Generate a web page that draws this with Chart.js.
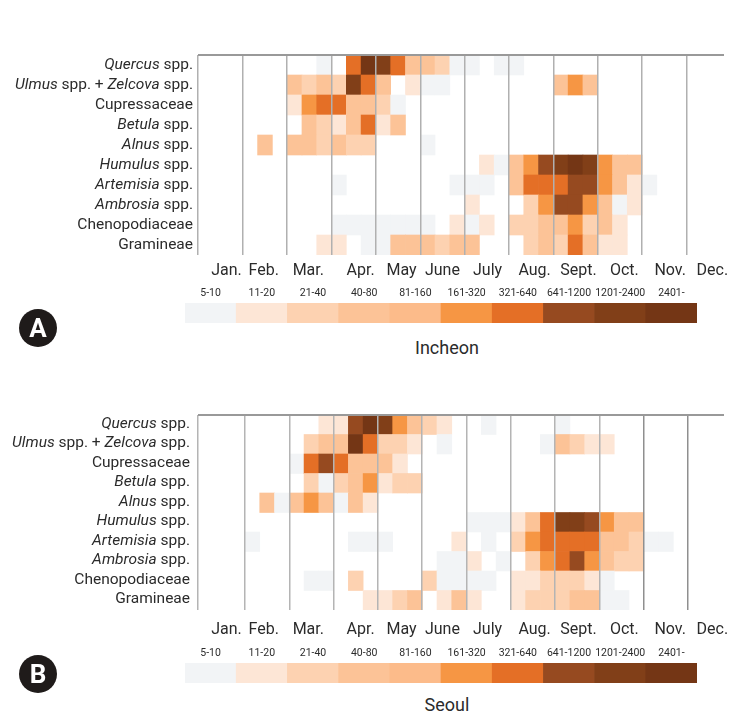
<!DOCTYPE html>
<html>
<head>
<meta charset="utf-8">
<script src="https://cdn.jsdelivr.net/npm/chart.js@4"></script>
<style>
  html, body { margin: 0; padding: 0; background: #fff; }
  #page { position: relative; width: 752px; height: 720px; overflow: hidden; font-family: Roboto, sans-serif; }
  canvas { position: absolute; left: 0; }
  .city { position: absolute; left: 347px; width: 200px; text-align: center; font-size: 18px; line-height: 24px; color: #2b2b2b; }
  .badge { position: absolute; left: 19px; width: 38px; height: 38px; border-radius: 50%; background: #1f1b1a; color: #fff;
           font-weight: 700; font-size: 26px; line-height: 38px; text-align: center; }
</style>
</head>
<body>
<div id="page">
  <canvas id="heatA" width="752" height="285" style="top:0"></canvas>
  <canvas id="legendA" width="752" height="43" style="top:280px"></canvas>
  <canvas id="heatB" width="752" height="280" style="top:360px"></canvas>
  <canvas id="legendB" width="752" height="43" style="top:640px"></canvas>
  <div class="city" style="top:336px">Incheon</div>
  <div class="city" style="top:693px">Seoul</div>
  <div class="badge" style="top:309px">A</div>
  <div class="badge" style="top:655px">B</div>
</div>
<script>
// labels (*...* = italic)
const taxa = ['*Quercus* spp.', '*Ulmus* spp. + *Zelcova* spp.', 'Cupressaceae', '*Betula* spp.', '*Alnus* spp.',
  '*Humulus* spp.', '*Artemisia* spp.', '*Ambrosia* spp.', 'Chenopodiaceae', 'Gramineae'];
const monthLabels = ['Jan.', 'Feb.', 'Mar.', 'Apr.', 'May', 'June', 'July', 'Aug.', 'Sept.', 'Oct.', 'Nov.', 'Dec.'];
const monthTickCols = [1.9, 4.42, 7.43, 10.97, 13.74, 16.5, 19.55, 22.73, 25.7, 28.8, 31.9, 34.75];
const monthLineCols = [3, 6, 9, 12, 15, 18, 21, 24, 27, 30, 33];
const levelLabels = ['5-10', '11-20', '21-40', '40-80', '81-160', '161-320', '321-640', '641-1200', '1201-2400', '2401-'];
const levelColors = ['#f2f4f6', '#fde6d6', '#fdd2b1', '#fcc397', '#fcbb8a', '#f69644', '#e46f26', '#964a20', '#813f18', '#743615'];

// Incheon: pollen level per ten-day period, 3 values a month (0 = none)
const incheonQuercus = [0,0,0, 0,0,0, 0,0,1, 0,7,10, 9,7,4, 4,3,1, 1,0,1, 1,0,0, 0,0,0, 0,0,0, 0,0,0, 0,0,0];
const incheonUlmus   = [0,0,0, 0,0,0, 4,3,4, 3,9,7, 4,0,2, 1,1,0, 0,0,0, 0,0,0, 4,6,4, 0,0,0, 0,0,0, 0,0,0];
const incheonCupress = [0,0,0, 0,0,0, 2,6,7, 7,4,4, 3,1,0, 0,0,0, 0,0,0, 0,0,0, 0,0,0, 0,0,0, 0,0,0, 0,0,0];
const incheonBetula  = [0,0,0, 0,0,0, 0,4,3, 2,4,7, 2,4,0, 0,0,0, 0,0,0, 0,0,0, 0,0,0, 0,0,0, 0,0,0, 0,0,0];
const incheonAlnus   = [0,0,0, 0,4,0, 4,4,3, 4,3,3, 0,0,0, 1,0,0, 0,0,0, 0,0,0, 0,0,0, 0,0,0, 0,0,0, 0,0,0];
const incheonHumulus = [0,0,0, 0,0,0, 0,0,0, 0,0,0, 0,0,0, 0,0,0, 0,2,1, 4,6,8, 9,10,9, 6,4,4, 0,0,0, 0,0,0];
const incheonArtem   = [0,0,0, 0,0,0, 0,0,0, 1,0,0, 0,0,0, 0,0,1, 1,1,0, 4,7,7, 7,8,8, 6,4,2, 1,0,0, 0,0,0];
const incheonAmbros  = [0,0,0, 0,0,0, 0,0,0, 0,0,0, 0,0,0, 0,0,0, 2,0,0, 0,3,6, 8,8,6, 4,1,2, 0,0,0, 0,0,0];
const incheonChenop  = [0,0,0, 0,0,0, 0,0,0, 1,1,1, 1,1,1, 1,0,2, 1,2,0, 3,3,4, 4,6,3, 4,2,0, 0,0,0, 0,0,0];
const incheonGramin  = [0,0,0, 0,0,0, 0,0,2, 2,0,1, 1,4,4, 4,3,4, 4,0,0, 0,3,4, 3,7,4, 2,2,0, 0,0,0, 0,0,0];

// Seoul
const seoulQuercus = [0,0,0, 0,0,0, 0,0,2, 2,8,10, 9,6,4, 3,2,0, 0,1,0, 0,0,0, 1,0,0, 0,0,0, 0,0,0, 0,0,0];
const seoulUlmus   = [0,0,0, 0,0,0, 0,3,4, 4,10,7, 3,3,2, 0,1,0, 0,0,0, 0,0,1, 4,3,2, 2,0,0, 0,0,0, 0,0,0];
const seoulCupress = [0,0,0, 0,0,0, 1,7,8, 7,4,4, 4,2,0, 0,0,0, 0,0,0, 0,0,0, 0,0,0, 0,0,0, 0,0,0, 0,0,0];
const seoulBetula  = [0,0,0, 0,0,0, 0,3,1, 3,4,6, 2,3,3, 0,0,0, 0,0,0, 0,0,0, 0,0,0, 0,0,0, 0,0,0, 0,0,0];
const seoulAlnus   = [0,0,0, 0,4,1, 4,6,4, 1,4,2, 0,0,0, 0,0,0, 0,0,0, 0,0,0, 0,0,0, 0,0,0, 0,0,0, 0,0,0];
const seoulHumulus = [0,0,0, 0,0,0, 0,0,0, 0,0,0, 0,0,0, 0,0,0, 1,1,1, 2,4,7, 9,9,8, 6,4,4, 0,0,0, 0,0,0];
const seoulArtem   = [0,0,0, 1,0,0, 0,0,0, 0,1,1, 1,0,0, 0,0,2, 0,1,0, 3,6,7, 7,7,7, 4,4,3, 1,1,0, 0,0,0];
const seoulAmbros  = [0,0,0, 0,0,0, 0,0,0, 0,0,0, 0,0,0, 0,1,1, 2,0,1, 0,3,6, 7,8,6, 4,3,3, 0,0,0, 0,0,0];
const seoulChenop  = [0,0,0, 0,0,0, 0,1,1, 0,3,0, 0,0,0, 3,1,1, 1,1,0, 2,2,3, 3,3,2, 1,0,0, 0,0,0, 0,0,0];
const seoulGramin  = [0,0,0, 0,0,0, 0,0,0, 0,0,2, 2,3,4, 0,2,4, 2,0,0, 2,3,3, 3,4,4, 1,1,0, 0,0,0, 0,0,0];

const incheonRows = [incheonQuercus, incheonUlmus, incheonCupress, incheonBetula, incheonAlnus,
  incheonHumulus, incheonArtem, incheonAmbros, incheonChenop, incheonGramin];
const seoulRows = [seoulQuercus, seoulUlmus, seoulCupress, seoulBetula, seoulAlnus,
  seoulHumulus, seoulArtem, seoulAmbros, seoulChenop, seoulGramin];

const textColor = '#2b2b2b';
const textFont = 'Roboto, sans-serif';
const plainTaxa = taxa.map(t => t.replace(/\*/g, ''));

// Chart.js ticks can't mix italic and roman, so the taxon names are drawn here
const taxonLabelsPlugin = {
    id: 'taxonLabels',
    afterDraw(chart, args, opts) {
        const ctx = chart.ctx;
        const yScale = chart.scales.y;
        ctx.save();
        ctx.fillStyle = textColor;
        ctx.textBaseline = 'middle';
        ctx.textAlign = 'left';
        taxa.forEach((name, i) => {
            // odd parts of the split sit between two stars
            const runs = name.split('*').map((s, k) => ({ text: s, italic: k % 2 === 1 })).filter(run => run.text.length);
            const fontFor = run => (run.italic ? 'italic ' : '') + '15.5px ' + textFont;
            let width = 0;
            runs.forEach(run => { ctx.font = fontFor(run); width += ctx.measureText(run.text).width; });
            let x = chart.chartArea.left - opts.gap - width;
            const y = yScale.getPixelForValue(i) + opts.shift;
            runs.forEach(run => {
                ctx.font = fontFor(run);
                ctx.fillText(run.text, x, y);
                x += ctx.measureText(run.text).width;
            });
        });
        ctx.restore();
    }
};

function buildCells(rows) {
    const cells = [];
    const colors = [];
    rows.forEach((row, r) => {
        row.forEach((level, col) => {
            if (!level) return;
            cells.push({ x: [col, col + 1], y: plainTaxa[r] });
            colors.push(levelColors[level - 1]);
        });
    });
    return { cells, colors };
}

function createHeatmap(id, rows, xMin, xMax, lineColor, monthPad, labelGap, labelShift) {
    const { cells, colors } = buildCells(rows);
    return new Chart(document.getElementById(id), {
        type: 'bar',
        data: {
            labels: plainTaxa,
            datasets: [{ data: cells, backgroundColor: colors, borderWidth: 0, barPercentage: 1, categoryPercentage: 1 }]
        },
        options: {
            indexAxis: 'y',
            responsive: false,
            animation: false,
            layout: { padding: { left: 198, right: 28, top: 55, bottom: 0 } },
            plugins: {
                legend: { display: false },
                tooltip: { enabled: false },
                taxonLabels: { gap: labelGap, shift: labelShift }
            },
            scales: {
                x: {
                    type: 'linear', position: 'bottom', min: xMin, max: xMax,
                    border: { display: false },
                    ticks: { display: false },
                    afterBuildTicks(scale) {
                        scale.ticks = [xMin].concat(monthLineCols).map(value => ({ value }));
                    },
                    afterFit(scale) { scale.height = 0; },
                    grid: { z: 1, drawTicks: false, lineWidth: 1.5, color: lineColor }
                },
                months: {
                    type: 'linear', position: 'bottom', min: -0.03, max: 35.54,
                    border: { display: false },
                    grid: { display: false, drawTicks: false },
                    afterBuildTicks(scale) {
                        scale.ticks = monthTickCols.map(value => ({ value }));
                    },
                    afterFit(scale) { scale.height = 30; },
                    ticks: {
                        autoSkip: false, maxRotation: 0, padding: monthPad, color: textColor,
                        font: { family: textFont, size: 16 },
                        callback: (value, index) => monthLabels[index]
                    }
                },
                y: {
                    type: 'category', offset: true,
                    border: { display: false },
                    ticks: { display: false },
                    grid: {
                        z: 1, offset: true, drawTicks: false, lineWidth: 2,
                        color: c => (c.index === 0 || c.index === taxa.length) ? '#999' : 'transparent'
                    }
                }
            }
        },
        plugins: [taxonLabelsPlugin]
    });
}

function createLegend(id) {
    return new Chart(document.getElementById(id), {
        type: 'bar',
        data: {
            labels: ['level'],
            datasets: [{
                data: levelLabels.map((label, i) => ({ x: [i, i + 1], y: 'level' })),
                backgroundColor: levelColors, borderWidth: 0, barPercentage: 1, categoryPercentage: 1
            }]
        },
        options: {
            indexAxis: 'y',
            responsive: false,
            animation: false,
            layout: { padding: { left: 185, right: 55, top: 0, bottom: 0 } },
            plugins: { legend: { display: false }, tooltip: { enabled: false } },
            scales: {
                x: {
                    type: 'linear', position: 'top', min: 0, max: levelLabels.length,
                    border: { display: false },
                    grid: { display: false, drawTicks: false },
                    afterBuildTicks(scale) {
                        scale.ticks = levelLabels.map((label, i) => ({ value: i + 0.5 }));
                    },
                    afterFit(scale) { scale.height = 23; },
                    ticks: {
                        autoSkip: false, maxRotation: 0, padding: 3, color: textColor,
                        font: { family: textFont, size: 10.5 },
                        callback: (value, index) => levelLabels[index]
                    }
                },
                y: { type: 'category', display: false }
            }
        }
    });
}

const seoulLineColor = c => (c.tick && (c.tick.value === 30 || c.tick.value === 33)) ? '#8f8f8f' : '#b4b4b4';

createHeatmap('heatA', incheonRows, -0.03, 35.54, '#b0b0b0', 6, 5, 0);
createHeatmap('heatB', seoulRows, -0.18, 35.43, seoulLineColor, 10, 8, -1);
createLegend('legendA');
createLegend('legendB');
</script>
</body>
</html>
